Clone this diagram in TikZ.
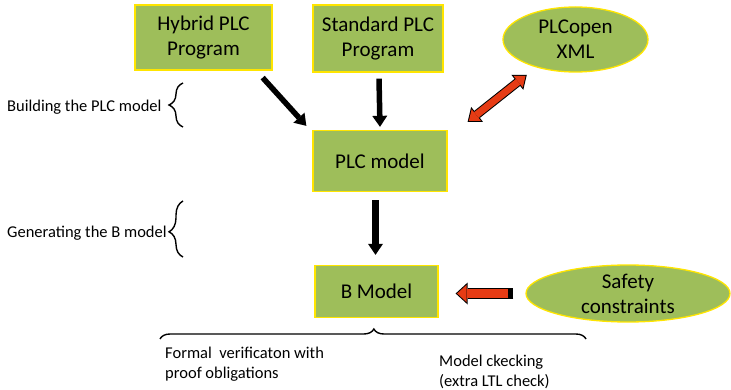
\documentclass[tikz,border=0pt]{standalone}
\usepackage{fontspec}
\setmainfont{Carlito}
\usetikzlibrary{shapes.geometric,arrows.meta,decorations.pathreplacing,calc}
\definecolor{boxgreen}{HTML}{9EBE5A}
\definecolor{boxyellow}{HTML}{FFE500}
\definecolor{redc}{HTML}{E63B14}
\begin{document}
\begin{tikzpicture}[x=1pt,y=-1pt,
  box/.style={rectangle, draw=boxyellow, line width=1.3pt, fill=boxgreen, align=center,
    font=\fontsize{21}{25}\selectfont, inner sep=0pt},
  oval/.style={ellipse, draw=boxyellow, line width=1.3pt, fill=boxgreen, align=center,
    font=\fontsize{21}{25}\selectfont, inner sep=0pt},
  lbl/.style={font=\fontsize{16.5}{20.5}\selectfont, inner sep=0pt, align=left},
  blackarrow/.style={draw=black, line width=5.5pt, -{Triangle[length=11pt,width=15pt,line width=0pt]}},
  redtwo/.style={draw=redc, line width=7pt, shorten <=1.6pt, shorten >=1.6pt,
    {Triangle[length=9.4pt,width=14.9pt,line width=0pt]}-{Triangle[length=9.4pt,width=14.9pt,line width=0pt]},
    preaction={draw=black, line width=9pt, shorten <=0pt, shorten >=0pt,
    {Triangle[length=12pt,width=19pt,line width=0pt]}-{Triangle[length=12pt,width=19pt,line width=0pt]}}},
  redone/.style={draw=redc, line width=9pt, shorten <=5pt, shorten >=1.5pt,
    -{Triangle[length=9.5pt,width=17.5pt,line width=0pt]},
    preaction={draw=black, line width=11pt, shorten <=0pt, shorten >=0pt,
    -{Triangle[length=12pt,width=22pt,line width=0pt]}}},
  bracestyle/.style={draw=black, line width=1.4pt, decorate}
]
\useasboundingbox (0,0) rectangle (731,390);

% nodes
\node[box, minimum width=137pt, minimum height=65pt] (hyb) at (203.5,37.5) {Hybrid PLC\\Program};
\node[box, minimum width=130pt, minimum height=67pt] (std) at (378,38.5) {Standard PLC\\Program};
\node[oval, minimum width=145pt, minimum height=65pt] (plco) at (575.5,39.5) {PLCopen\\XML};
\node[box, minimum width=134pt, minimum height=61pt] (plcm) at (380,161) {PLC model};
\node[box, minimum width=123pt, minimum height=52pt] (bm) at (376.5,291.5) {B Model};
\node[oval, minimum width=204pt, minimum height=57pt] (saf) at (628,293.5) {Safety\\constraints};

% labels
\node[lbl, anchor=base west] (l1) at (7,112) {Building the PLC model};
\node[lbl, anchor=base west] (l2) at (7,238) {Generating the B model};
\node[lbl, anchor=north west] (l3) at (165,346.5) {Formal\ \ verificaton with\\proof obligations};
\node[lbl, anchor=north west] (l4) at (439,354.5) {Model ckecking\\(extra LTL check)};

% black arrows
\draw[blackarrow] ($(hyb.south east)+(-10,7)$) -- ($(plcm.north west)+(-6,-4)$);
\draw[blackarrow] ($(std.south)+(1,6)$) -- ($(plcm.north)+(0,-3)$);
\draw[blackarrow, line width=6.5pt] ($(plcm.south -| bm.north)+(-1,8)$) -- ($(bm.north)+(-1,-10)$);

% red arrows
\draw[redtwo] ($(plcm.north east)+(20,-8)$) -- ($(plco.south west)+(3,12)$);
\draw[redone] ($(saf.west)+(-12,0)$) -- ($(saf.west -| bm.east)+(17,0)$);

% braces
\coordinate (b1a) at (183,127); \coordinate (b1b) at (183,83);
\coordinate (b2a) at (183,257); \coordinate (b2b) at (183,201);
\coordinate (b3a) at (160,339); \coordinate (b3b) at (586,339);
\draw[bracestyle, decoration={brace, amplitude=14pt, aspect=0.5}] (b1a) -- (b1b);
\draw[bracestyle, decoration={brace, amplitude=14pt, aspect=0.45}] (b2a) -- (b2b);
\draw[bracestyle, decoration={brace, amplitude=10pt, aspect=0.502}] (b3a) -- (b3b);
\end{tikzpicture}
\end{document}
